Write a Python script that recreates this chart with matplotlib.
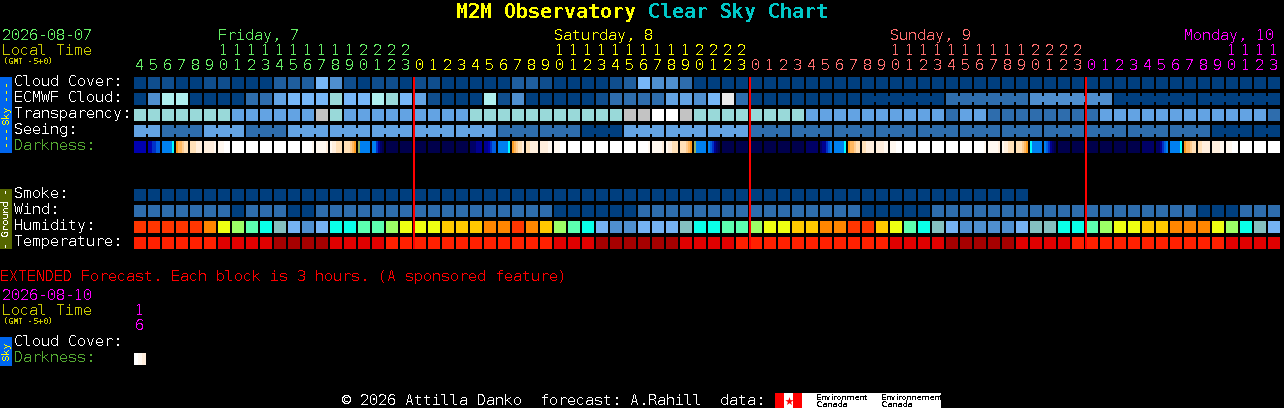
import matplotlib as mpl
mpl.use('Agg')
import matplotlib.pyplot as plt

plt.rcParams['text.hinting'] = 'native'
plt.rcParams['text.hinting_factor'] = 1

# palette index -> colour, shared by cloud/ecmwf/transparency/seeing/smoke/wind
blues = ['#003f7f', '#0f4e8e', '#1f5e9e', '#2e6dad', '#4f8fcf', '#63a3e3', '#77b7f7',
         '#99d9d9', '#afefef', '#c3c3c3', '#ebebeb', '#ffffff']
humid_pal = ['#ff3600', '#ff8600', '#ffc800', '#eeff12', '#9cff66', '#5cffb0',
             '#0affe8', '#84c0c0', '#75b2f3', '#4f8fcf']
temp_pal = ['#ff2000', '#e00000', '#a60000']
dark_pal = {'0': '#00004c', '1': '#000066', '2': '#000090', '3': '#0000b0', '4': '#0030c8',
            '5': '#0060e0', '6': '#0080f0', '7': '#00ffff', '8': '#ff9c20', '9': '#ffb860',
            'a': '#ffcc90', 'b': '#ffe0b8', 'c': '#ffeedd', 'd': '#fff8f0', 'e': '#ffffff',
            'f': '#90b060'}

hours = [4, 5, 6, 7, 8, 9, 10, 11, 12, 13, 14, 15, 16, 17, 18, 19, 20, 21, 22, 23,
         0, 1, 2, 3, 4, 5, 6, 7, 8, 9, 10, 11, 12, 13, 14, 15, 16, 17, 18, 19, 20, 21, 22, 23,
         0, 1, 2, 3, 4, 5, 6, 7, 8, 9, 10, 11, 12, 13, 14, 15, 16, 17, 18, 19, 20, 21, 22, 23,
         0, 1, 2, 3, 4, 5, 6, 7, 8, 9, 10, 11, 12, 13]

cloud = [0, 1, 1, 0, 0, 1, 1, 0, 0, 0, 2, 2, 2, 6, 4, 1, 0, 1, 1, 0,
         1, 1, 0, 0, 0, 0, 0, 2, 2, 1, 0, 0, 0, 0, 1, 2, 6, 4, 4, 3, 0, 0, 0, 0,
         0, 0, 0, 0, 0, 0, 0, 0, 0, 0, 0, 0, 0, 0, 0, 0, 0, 0, 0, 0,
         0, 0, 0, 0, 0, 0, 0, 0, 0, 0, 0, 0, 0, 0, 0, 0, 0, 0]
ecmwf = [0, 4, 8, 8, 0, 0, 0, 0, 3, 3, 5, 6, 6, 6, 7, 6, 6, 8, 7, 6,
         5, 1, 0, 0, 0, 8, 1, 4, 0, 0, 0, 0, 0, 1, 3, 3, 3, 3, 5, 5, 4, 6, 10, 3,
         0, 0, 0, 0, 0, 0, 0, 0, 0, 0, 0, 0, 0, 0, 3, 3, 3, 3, 3, 3,
         4, 4, 4, 4, 4, 4, 0, 0, 0, 0, 0, 0, 0, 0, 0, 0, 0, 0]
transparency = [7, 7, 7, 7, 7, 7, 7, 5, 5, 5, 5, 5, 5, 9, 7, 5, 5, 5, 5, 5,
                5, 5, 5, 5, 7, 7, 7, 7, 7, 7, 7, 7, 7, 7, 7, 9, 9, 11, 11, 9, 7, 7, 7, 7,
                7, 7, 7, 7, 5, 5, 5, 5, 5, 5, 5, 5, 5, 5, 3, 5, 5, 3, 3, 3,
                3, 3, 3, 3, 3, 5, 5, 5, 5, 5, 5, 5, 5, 5, 5, 5, 5, 3]
seeing = [5, 5, 3, 3, 3, 5, 5, 5, 3, 3, 3, 5, 5, 5, 5, 5, 5, 5, 5, 5,
          5, 5, 5, 5, 5, 5, 3, 3, 3, 3, 3, 3, 0, 0, 0, 5, 5, 5, 5, 5, 5, 5, 5, 5,
          3, 3, 3, 3, 3, 3, 3, 3, 3, 3, 3, 3, 3, 3, 3, 3, 3, 3, 3, 3,
          3, 3, 3, 3, 3, 3, 3, 3, 3, 3, 3, 3, 3, 0, 0, 0, 0, 0]
# six slices per block, codes from dark_pal
darkness = ['333333', '334455', '666667', '899abb', 'bbbccc', 'cccccd', 'dddeee', 'eeeeee',
            'eeeeee', 'eeeeee', 'eeeeee', 'eeeeee', 'eeeeed', 'dddddc', 'dccbbb', 'bbba98',
            'f66666', '664210', '000000', '000000',
            '000000', '000000', '000000', '000000', '111222', '223455', '666667', '89abbc',
            'bbcccc', 'ccccdd', 'dddeee', 'eeeeee', 'eeeeee', 'eeeeee', 'eeeeee', 'eeeeee',
            'eeeeed', 'dddddc', 'dccbbb', 'bbba98', 'f66666', '654210', '000000', '000000',
            '000000', '000000', '000000', '000000', '111111', '122456', '666667', '899abb',
            'bbcccc', 'ccccdd', 'dddeee', 'eeeeee', 'eeeeee', 'eeeeee', 'eeeeee', 'eeeeee',
            'eeeeed', 'dddddc', 'dccbbb', 'bbba98', '766666', '654210',
            '000000', '000000', '000000', '000000', '000000', '000000',
            '111111', '112456', '666667', '899abb', 'bbcccc', 'ccccdd', 'dddeee',
            'eeeeee', 'eeeeee', 'eeeeee']
smoke = [0, 0, 0, 0, 0, 0, 0, 0, 0, 0, 0, 0, 0, 0, 0, 0, 0, 0, 0, 0,
         0, 0, 0, 0, 0, 0, 0, 0, 0, 0, 0, 0, 0, 0, 0, 0, 0, 0, 0, 0, 0, 0, 0, 0,
         0, 0, 0, 0, 0, 0, 0, 0, 0, 0, 0, 0, 0, 0, 0, 0, 0, 0, 0, 0]
wind = [3, 3, 3, 3, 3, 3, 3, 0, 3, 3, 3, 0, 0, 3, 3, 3, 3, 3, 3, 3,
        3, 3, 3, 3, 3, 3, 3, 3, 3, 3, 0, 0, 0, 0, 0, 0, 3, 3, 3, 3, 3, 3, 3, 3,
        3, 3, 3, 3, 3, 3, 3, 3, 0, 0, 0, 0, 0, 3, 3, 3, 3, 3, 3, 3,
        3, 3, 3, 3, 3, 3, 3, 3, 3, 3, 3, 3, 0, 0, 0, 3, 3, 3]
humidity = [0, 0, 0, 0, 0, 1, 3, 4, 5, 6, 7, 8, 9, 8, 6, 6, 5, 5, 4, 3,
            3, 3, 2, 2, 2, 1, 1, 0, 1, 2, 4, 5, 6, 8, 9, 9, 8, 8, 8, 7, 6, 6, 5, 5,
            4, 3, 3, 2, 2, 1, 1, 0, 0, 2, 3, 5, 6, 7, 8, 9, 9, 9, 9, 8,
            7, 7, 6, 6, 5, 4, 3, 3, 2, 2, 1, 1, 1, 3, 4, 6, 7, 8]
temperature = [0, 0, 0, 0, 0, 0, 1, 1, 1, 1, 2, 2, 2, 2, 1, 1, 1, 1, 0, 0,
               0, 0, 0, 0, 0, 0, 0, 0, 0, 0, 1, 1, 1, 2, 2, 2, 2, 2, 2, 1, 1, 1, 1, 0,
               0, 0, 0, 0, 0, 0, 0, 0, 0, 0, 1, 1, 1, 1, 2, 2, 2, 2, 2, 1,
               1, 1, 1, 0, 0, 0, 0, 0, 0, 0, 0, 0, 0, 0, 1, 1, 1, 1]
ext_darkness = ['eeddcc']

day_names = ['Friday, 7', 'Saturday, 8', 'Sunday, 9', 'Monday, 10']
day_colors = ['#66ee66', '#ffff00', '#ff7070', '#ff00ff']
day_first_col = [0, 20, 44, 68]

X0 = 134
PITCH = 14
CELL = 12
FONT = 'DejaVu Sans Mono'

fig = plt.figure(figsize=(12.84, 4.08), dpi=100, facecolor='black')
ax = fig.add_axes([0, 0, 1, 1])
ax.set_xlim(0, 1284)
ax.set_ylim(408, 0)
ax.axis('off')


def put(x, y, s, color='white', px=15, **kw):
    kw.setdefault('va', 'baseline')
    ax.text(x, y, s, color=color, fontsize=px * 0.72, family=FONT, antialiased=False, **kw)


def box(x, y, w, h, color, z=2):
    ax.bar(x, h, width=w, bottom=y, align='edge', color=color, linewidth=0, antialiased=False, zorder=z)


def row(y, vals, pal, same_block=None):
    for c, v in enumerate(vals):
        x = X0 + c * PITCH
        box(x, y, CELL, CELL, pal[v])
        # blocks from the same forecast step are joined by a small bridge
        if same_block and c + 1 < len(vals) and same_block(c):
            box(x + CELL, y + 3, PITCH - CELL, 6, pal[v])


def dark_row(y, vals):
    for c, codes in enumerate(vals):
        for i, code in enumerate(codes):
            box(X0 + c * PITCH + i * 2, y, 2, CELL, dark_pal[code])


# title
put(456, 18, 'M2M Observatory', '#ffff00', 20, fontweight='bold')
put(648, 18, 'Clear Sky Chart', '#00c8c8', 20, fontweight='bold')

# header
put(2, 40, '2026-08-07', day_colors[0])
put(2, 55, 'Local Time', '#c8c800')
put(3, 64, '(GMT -5+0)', '#c8c800', 8, fontweight='bold')
for name, col, first in zip(day_names, day_colors, [6, 30, 54, 75]):
    put(X0 + first * PITCH, 40, name, col)

for c, h in enumerate(hours):
    day = sum(c >= f for f in day_first_col) - 1
    xc = X0 + c * PITCH + 5.5
    if h >= 10:
        put(xc, 55, str(h // 10), day_colors[day], ha='center')
    put(xc, 70, str(h % 10), day_colors[day], ha='center')

# row labels
for y, s in zip([86, 102, 118, 134], ['Cloud Cover:', 'ECMWF Cloud:', 'Transparency:', 'Seeing:']):
    put(14, y, s)
put(14, 150, 'Darkness:', '#55aa33')
for y, s in zip([198, 214, 230, 246], ['Smoke:', 'Wind:', 'Humidity:', 'Temperature:']):
    put(14, y, s)

# side bars
box(0, 77, 12, 76, '#0066ee')
box(0, 189, 12, 60, '#556600')
box(0, 337, 12, 29, '#0066ee')
put(6, 90, '---', '#ffff00', 11, rotation=90, ha='center', va='center')
put(6, 115, 'Sky', '#ffff00', 10, rotation=90, ha='center', va='center')
put(6, 136, '---', '#ffff00', 11, rotation=90, ha='center', va='center')
put(6, 219, '- Ground -', 'white', 10, rotation=90, ha='center', va='center')
put(6, 351, 'Sky', '#ffff00', 10, rotation=90, ha='center', va='center')

# rows
row(77, cloud, blues)
row(93, ecmwf, blues, lambda c: c >= 52 and (c - 52) // 6 == (c - 51) // 6)
row(109, transparency, blues)
row(125, seeing, blues, lambda c: (c + 1) // 3 == (c + 2) // 3)
dark_row(141, darkness)
row(189, smoke, blues)
row(205, wind, blues)
row(221, humidity, humid_pal)
row(237, temperature, temp_pal)

# midnight markers
for first in day_first_col[1:]:
    box(X0 + first * PITCH - 1, 77, 2, 172, '#ff0000', z=3)

# extended forecast
put(0, 281, 'EXTENDED Forecast. Each block is 3 hours. (A sponsored feature)', '#ff0000')
put(2, 300, '2026-08-10', '#ff00ff')
put(2, 315, 'Local Time', '#c8c800')
put(3, 324, '(GMT -5+0)', '#c8c800', 8, fontweight='bold')
put(139.5, 315, '1', '#ff00ff', ha='center')
put(139.5, 330, '6', '#ff00ff', ha='center')
put(14, 346, 'Cloud Cover:')
put(14, 362, 'Darkness:', '#55aa33')
dark_row(353, ext_darkness)

# footer
put(342, 405, '\u00a9 2026 Attilla Danko  forecast: A.Rahill  data:')
box(775, 393, 27, 15, '#ff0000')
box(784, 393, 9, 15, 'white', z=3)
box(802, 393, 139, 15, 'white')
ax.scatter([788.5], [400.5], s=40, marker='*', color='#ff0000', linewidths=0, zorder=4)
for x, s in zip([816, 881], ['Environment', 'Environnement']):
    ax.text(x, 400, s, color='black', fontsize=5.6, family='DejaVu Sans', zorder=4, antialiased=False)
    ax.text(x, 407, 'Canada', color='black', fontsize=5.6, family='DejaVu Sans', zorder=4, antialiased=False)

plt.savefig('out.png', dpi=100, facecolor='black')
